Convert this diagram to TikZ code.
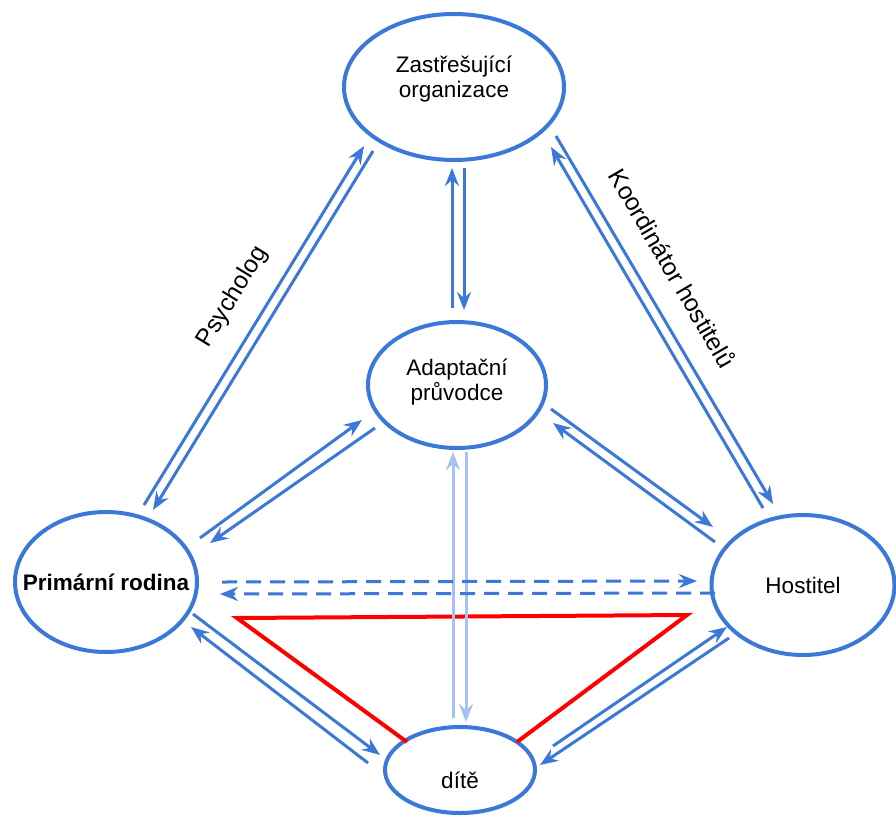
\documentclass[tikz,border=0pt]{standalone}
\usepackage{fontspec}
\setmainfont{Liberation Sans}
\usetikzlibrary{shapes.geometric,arrows.meta}
\definecolor{cblue}{HTML}{3C78D8}
\definecolor{clight}{HTML}{A4C2F4}
\definecolor{cred}{HTML}{FF0000}
% text of zero size, raised by #1 (baseline relative to node centre)
\newcommand{\zerotext}[2]{\makebox[0pt]{\raisebox{#1}[0pt][0pt]{#2}}}
\tikzset{
  ell/.style={ellipse, draw=cblue, line width=4pt, inner sep=0pt, outer sep=0pt,
              font=\fontsize{22.5}{25}\selectfont},
  arr/.style={draw=cblue, line width=3pt, -{Stealth[length=18pt,width=14pt,inset=6pt]}},
  larr/.style={arr, draw=clight},
  darr/.style={arr, dash pattern=on 15pt off 9pt},
  redline/.style={draw=cred, line width=4pt, line join=miter},
  lab/.style={font=\fontsize{24.5}{28}\selectfont, inner sep=0pt}
}
\begin{document}
\begin{tikzpicture}[x=1pt,y=-1pt]
\useasboundingbox (0,0) rectangle (896,817);
% nodes
\node[ell, minimum width=220pt, minimum height=146pt] (T) at (454,87)
  {\zerotext{15pt}{\begin{tabular}[t]{@{}c@{}}Zastřešující\\organizace\end{tabular}}};
\node[ell, minimum width=178pt, minimum height=126pt] (M) at (457,385)
  {\zerotext{10pt}{\begin{tabular}[t]{@{}c@{}}Adaptační\\průvodce\end{tabular}}};
\node[ell, minimum width=182pt, minimum height=140pt] (L) at (106,582)
  {\zerotext{-8pt}{\textbf{Primární rodina}}};
\node[ell, minimum width=183pt, minimum height=140pt] (R) at (803,585)
  {\zerotext{-8pt}{Hostitel}};
\node[ell, minimum width=150pt, minimum height=86pt] (B) at (460,770)
  {\zerotext{-18pt}{dítě}};

% red triangle
\draw[redline] ([shift={(-53,-28)}]B.center) -- ([shift={(131,36)}]L.center) -- ([shift={(-116,30)}]R.center) -- ([shift={(57,-28)}]B.center);

% L - T
\draw[arr] ([shift={(38,-77)}]L.center) -- ([shift={(-90,59)}]T.center);
\draw[arr] ([shift={(-81,64)}]T.center) -- ([shift={(47,-72)}]L.center);
% T - M
\draw[arr] ([shift={(-5,-77)}]M.center) -- ([shift={(-2,81)}]T.center);
\draw[arr] ([shift={(10,81)}]T.center) -- ([shift={(7,-75)}]M.center);
% T - R
\draw[arr] ([shift={(-40,-77)}]R.center) -- ([shift={(97,60)}]T.center);
\draw[arr] ([shift={(102,49)}]T.center) -- ([shift={(-30,-81)}]R.center);
% L - M
\draw[arr] ([shift={(94,-44)}]L.center) -- ([shift={(-95,35)}]M.center);
\draw[arr] ([shift={(-82,43)}]M.center) -- ([shift={(104,-39)}]L.center);
% M - R
\draw[arr] ([shift={(94,24)}]M.center) -- ([shift={(-90,-58)}]R.center);
\draw[arr] ([shift={(-88,-43)}]R.center) -- ([shift={(96,38)}]M.center);
% L - B
\draw[arr] ([shift={(87,32)}]L.center) -- ([shift={(-80,-15)}]B.center);
\draw[arr] ([shift={(-92,-7)}]B.center) -- ([shift={(85,45)}]L.center);
% B - R
\draw[arr] ([shift={(93,-24)}]B.center) -- ([shift={(-76,42)}]R.center);
\draw[arr] ([shift={(-74,53)}]R.center) -- ([shift={(80,-5)}]B.center);
% M - B (light)
\draw[larr] ([shift={(-7,-52)}]B.center) -- ([shift={(-4,67)}]M.center);
\draw[larr] ([shift={(9,67)}]M.center) -- ([shift={(6,-48)}]B.center);
% dashed L - R
\draw[darr] ([shift={(116,0)}]L.center) -- ([shift={(-106,-4)}]R.center);
\draw[darr] ([shift={(-88,8)}]R.center) -- ([shift={(114,12)}]L.center);

% labels
\node[lab, rotate=58.6] (psy) at (233,297) {Psycholog};
\node[lab, rotate=-59.7] (koord) at (673,268) {Koordinátor hostitelů};
\end{tikzpicture}
\end{document}
